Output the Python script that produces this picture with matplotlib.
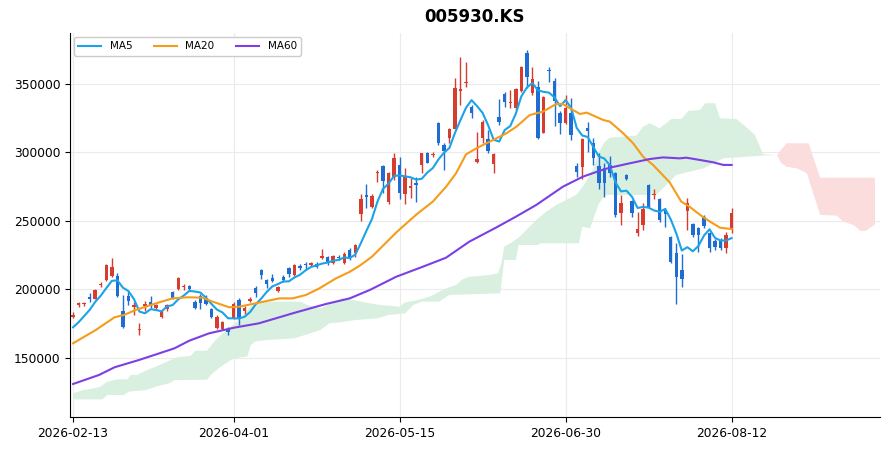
import matplotlib
matplotlib.use("Agg")
import matplotlib.pyplot as plt
import numpy as np
import pandas as pd

# chart data
title = "005930.KS"
tick_pos = [0, 29, 59, 89, 119]
tick_labels = ["2026-02-13", "2026-04-01", "2026-05-15", "2026-06-30", "2026-08-12"]

opens = [180050, 188560, 189300, 194650, 193200, 202900, 206800, 209700, 209700, 184200,
         195100, 186900, 170000, 188000, 190700, 186700, 180000, 185400, 198100, 200000,
         201500, 202200, 191000, 195100, 193700, 185400, 172000, 171300, 171300, 179100,
         192500, 184200, 191200, 201200, 214100, 206800, 208500, 198800, 208800, 215300,
         210500, 217000, 218200, 217800, 218200, 222600, 223800, 219000, 223800, 219000,
         229000, 226800, 254700, 268500, 260300, 284700, 290000, 264000, 282200, 290800,
         269600, 274200, 277900, 290800, 299300, 298100, 321200, 305400, 310200, 317200,
         345000, 350400, 332800, 293200, 310200, 309400, 291500, 325500, 342300, 336000,
         332100, 345000, 372700, 343100, 347400, 314400, 359800, 352000, 328900, 321600,
         328900, 290000, 289000, 317500, 306600, 290000, 288300, 290800, 284700, 255500,
         283500, 264500, 241400, 247000, 276200, 268900, 265700, 257900, 238400, 226800,
         214100, 257400, 247700, 244500, 252600, 241400, 235300, 236000, 229900, 243300]
highs = [183700, 191000, 191000, 197100, 200200, 205600, 218500, 222600, 211700, 195900,
         198300, 191000, 175700, 191500, 195100, 189500, 184700, 189300, 199000, 209200,
         204100, 202900, 192000, 196400, 196100, 186100, 181000, 176900, 172500, 190800,
         193700, 187600, 194600, 202400, 214600, 207500, 210900, 202700, 210500, 216500,
         218200, 218200, 219700, 220200, 220200, 229400, 224600, 225100, 225100, 227500,
         230400, 233100, 269300, 276600, 269300, 287100, 290800, 285900, 299300, 296300,
         288300, 281000, 282200, 299800, 300000, 300500, 322400, 306600, 317500, 354000,
         369300, 365700, 334500, 315100, 323600, 316000, 299800, 338700, 344300, 345500,
         346700, 363000, 374700, 362500, 352300, 341100, 362000, 354400, 330100, 341800,
         339400, 292000, 310200, 322400, 310200, 299800, 292000, 297300, 285900, 268900,
         284200, 265200, 256700, 263300, 276900, 273000, 266400, 259100, 238900, 233600,
         225800, 266400, 248700, 245700, 254300, 242100, 236500, 237200, 242100, 259600]
lows = [178800, 187350, 187600, 191000, 192700, 201500, 206300, 209200, 194600, 171500,
        188600, 181300, 166700, 184000, 186500, 185500, 179100, 184200, 192700, 199500,
        199300, 199300, 185900, 185400, 188300, 179100, 171300, 170600, 166900, 178600,
        173700, 182200, 190800, 194600, 207500, 201200, 205600, 197800, 205600, 209200,
        210000, 214100, 214100, 217300, 215300, 221900, 217800, 218200, 221400, 218200,
        221400, 223800, 250100, 259100, 259100, 278600, 270100, 262300, 279800, 265700,
        262300, 266400, 263500, 285100, 292000, 296800, 305400, 287100, 306600, 316700,
        334500, 347900, 324800, 292500, 306600, 299700, 285100, 320000, 333300, 332100,
        330900, 344300, 346700, 341800, 309500, 313900, 351600, 319200, 313100, 320400,
        309000, 282200, 280400, 300500, 290800, 273000, 267600, 282200, 253000, 247000,
        279800, 252600, 238900, 243300, 259100, 265700, 249400, 245700, 219500, 189300,
        201500, 243300, 238000, 227500, 244500, 227500, 228700, 228700, 226800, 240900]
closes = [181270, 190270, 189900, 193200, 199500, 203900, 217800, 216500, 195100, 172800,
          191500, 188600, 170600, 189000, 187800, 188500, 183600, 188800, 193900, 208500,
          202500, 200500, 186600, 190300, 189500, 179800, 179800, 176200, 168900, 189500,
          179100, 186400, 193200, 197100, 210500, 203600, 206100, 201700, 206800, 210900,
          217800, 215800, 217800, 219500, 216500, 224300, 219700, 224300, 222600, 225500,
          222000, 232400, 265900, 267500, 268400, 285600, 279300, 284700, 296100, 270100,
          282200, 275700, 276200, 299300, 292500, 298800, 306600, 301200, 316800, 347100,
          346000, 351600, 329000, 294900, 322400, 300900, 298800, 322400, 337000, 337000,
          346000, 362000, 354700, 353300, 310200, 340600, 359100, 337400, 321100, 332500,
          312400, 285900, 309500, 315800, 296100, 277900, 277900, 284700, 254300, 262800,
          280300, 255500, 244000, 258400, 259900, 269800, 250600, 254700, 220200, 208800,
          207300, 262800, 239700, 239700, 246500, 230400, 231100, 230400, 239700, 255500]

# first MA5 points come from days before the window
ma5_head = [172300, 176000, 180500, 185000]

ma20_x = [0, 4.1, 7.5, 9.2, 11.3, 15, 18, 20.7, 23.4, 25.2, 28.2, 30, 33.6, 37.3, 39.7,
          42.1, 44.5, 47.5, 49.9, 51.7, 54, 58.4, 62, 65, 67.4, 69.2, 71, 72.9, 75.9, 78.3,
          80.1, 82.5, 84.9, 87.3, 88.5, 89.8, 91.6, 92.8, 95.8, 97, 99.4, 101.2, 103, 104.8,
          107.8, 109.9, 111.4, 113.3, 115.1, 116.9, 119]
ma20_v = [160600, 170300, 179600, 181300, 184900, 189800, 193400, 194200, 193900, 191000,
          186900, 187300, 190300, 193400, 193400, 195900, 200700, 208000, 212600, 217000,
          223800, 241500, 254500, 264000, 274900, 284700, 298500, 303000, 309000, 313900,
          318700, 327200, 329700, 335300, 335300, 332100, 328000, 329000, 323600, 322400,
          313900, 306600, 296800, 290800, 278100, 264000, 260300, 254300, 249400, 245000,
          244000]

ma60_x = [0, 4.7, 7.5, 11.9, 15.6, 18.3, 21, 24.6, 29.1, 33.6, 39.7, 45.7, 50, 53.6, 58.4,
          63.2, 67.4, 71.6, 76.4, 80, 83.7, 88.5, 92.1, 95.2, 97, 100.6, 104.2, 106.6, 109.6,
          110.8, 113.3, 115.7, 117.5, 119]
ma60_v = [130900, 137500, 143100, 148400, 153300, 156900, 162500, 167900, 172000, 175200,
          182500, 189300, 193400, 199500, 209200, 216500, 223100, 234800, 245000, 253000,
          261600, 274900, 282200, 286600, 288800, 292000, 295100, 296300, 295600, 296100,
          294400, 292700, 290800, 290800]

# ichimoku cloud outline (green part, then red part)
green_top_x = [0, 1.9, 3.7, 4.9, 6.2, 8, 9.8, 10.4, 11.6, 13.4, 15.2, 17, 18.8, 21.2, 22.1,
               24.2, 25.5, 26.7, 28.5, 30.3, 31.8, 32.7, 33.9, 41.1, 42.3, 44.8, 46.6, 48.7,
               50.5, 53, 55.4, 59, 59.9, 62.3, 64.4, 66.2, 67.4, 69.2, 70.4, 71.6, 73.4, 75.2,
               76.8, 77.4, 77.9, 79.5, 80.7, 82.5, 83.7, 85.5, 87.3, 89.1, 90.9, 92.1, 94, 95,
               96.1, 97, 101.8, 103, 104.2, 106, 108.1, 109.9, 111.2, 113.3, 114.2, 116, 116.9,
               119.9, 121.9, 123.2, 124.7, 127.2]
green_top_v = [124100, 126500, 127700, 128900, 132600, 134300, 134300, 137500, 137500, 141100,
               144000, 147200, 150400, 151300, 155200, 155200, 161800, 166700, 172700, 178800,
               186100, 189800, 191000, 191000, 188600, 186100, 190000, 193400, 192200, 190300,
               188600, 187300, 190300, 192200, 194600, 198300, 200700, 203200, 207300, 209200,
               209700, 210500, 211700, 219000, 231100, 234800, 238400, 245700, 250600, 256700,
               261600, 265200, 268900, 274900, 288000, 300000, 307800, 310700, 312200, 318700,
               321200, 317500, 324300, 324300, 330200, 330900, 335800, 335800, 324800, 324300,
               317500, 312700, 298500, 298000]
green_bot_x = [0, 5.3, 6.2, 9.2, 10.1, 13.2, 15, 17.4, 18.3, 24.2, 25, 26.7, 29, 31.5, 32.1,
               33, 35, 40, 44.7, 46.3, 48.5, 51, 55, 57, 60, 61.5, 63, 66.2, 67, 68, 77.2,
               77.9, 80, 80.5, 84, 84.5, 91.4, 92, 93.4, 94.9, 96.1, 105.4, 107.5, 109, 111.4,
               113.9, 115.1, 117.5, 121.7, 124.7, 127.2]
green_bot_v = [119700, 119700, 122900, 122900, 125300, 126500, 129000, 131400, 133800, 134000,
               138000, 143600, 149600, 151000, 159400, 162000, 163000, 164200, 170300, 175200,
               176000, 177600, 178800, 181300, 182500, 188600, 191000, 191000, 193400, 195900,
               197100, 221400, 221400, 232400, 232400, 233600, 233600, 245700, 244500, 261600,
               268900, 268900, 277400, 283500, 285900, 288300, 290800, 295600, 296800, 297600,
               298000]
red_top_x = [127.2, 128.9, 132.9, 135, 144.9]
red_top_v = [298000, 306600, 306600, 281500, 281500]
red_bot_x = [127.2, 128, 128.9, 130.8, 132.6, 135, 138, 139.2, 141, 142.3, 143.2, 144.9]
red_bot_v = [298000, 292000, 289500, 288300, 284700, 254300, 253800, 249400, 247000, 242600,
             242600, 247400]

UP = "#d63d2e"
DOWN = "#1f6dd3"

fig = plt.figure(figsize=(8.91, 4.51), dpi=100)
ax = fig.add_axes([0.0786, 0.0754, 0.909, 0.8514])

# cloud
ax.fill(np.r_[green_top_x, green_bot_x[::-1]], np.r_[green_top_v, green_bot_v[::-1]],
        color="#d9efe0", lw=0, zorder=1)
ax.fill(np.r_[red_top_x, red_bot_x[::-1]], np.r_[red_top_v, red_bot_v[::-1]],
        color="#fbdddd", lw=0, zorder=1)

# candles
o = np.array(opens, float)
h = np.array(highs, float)
l = np.array(lows, float)
c = np.array(closes, float)
x = np.arange(len(c))
up = c >= o
cols = np.where(up, UP, DOWN)
body_lo = np.minimum(o, c)
body_h = np.maximum(np.abs(c - o), 700)
ax.vlines(x, l, h, colors=cols, linewidth=1.0, zorder=3)
ax.bar(x, body_h, bottom=body_lo, width=0.62, color=cols, linewidth=0, zorder=4)

# moving averages
ma5 = pd.Series(c).rolling(5).mean().values
ma5[:4] = ma5_head
ax.plot(x, ma5, color="#1aa3e8", lw=1.5, label="MA5", zorder=5)
ax.plot(ma20_x, ma20_v, color="#f59c1a", lw=1.5, label="MA20", zorder=5)
ax.plot(ma60_x, ma60_v, color="#7b3fe4", lw=1.5, label="MA60", zorder=5)

ax.set_xlim(-0.55, 145.8)
ax.set_ylim(106800, 387100)
ax.set_xticks(tick_pos)
ax.set_xticklabels(tick_labels)
ax.set_yticks([150000, 200000, 250000, 300000, 350000])
ax.set_yticklabels(["150000", "200000", "250000", "300000", "350000"])
ax.tick_params(labelsize=8.8)
ax.grid(True, color="#ebebeb", linewidth=0.8, zorder=0)
ax.set_axisbelow(True)
for s in ["top", "right"]:
    ax.spines[s].set_visible(False)

ax.set_title(title, fontsize=12, fontweight="bold", pad=8)
ax.legend(loc="upper left", ncol=3, fontsize=7.5, frameon=True, framealpha=1,
          edgecolor="#cccccc", handlelength=2.2, columnspacing=2.1,
          borderaxespad=0.4)

fig.savefig("out.png", dpi=100)
